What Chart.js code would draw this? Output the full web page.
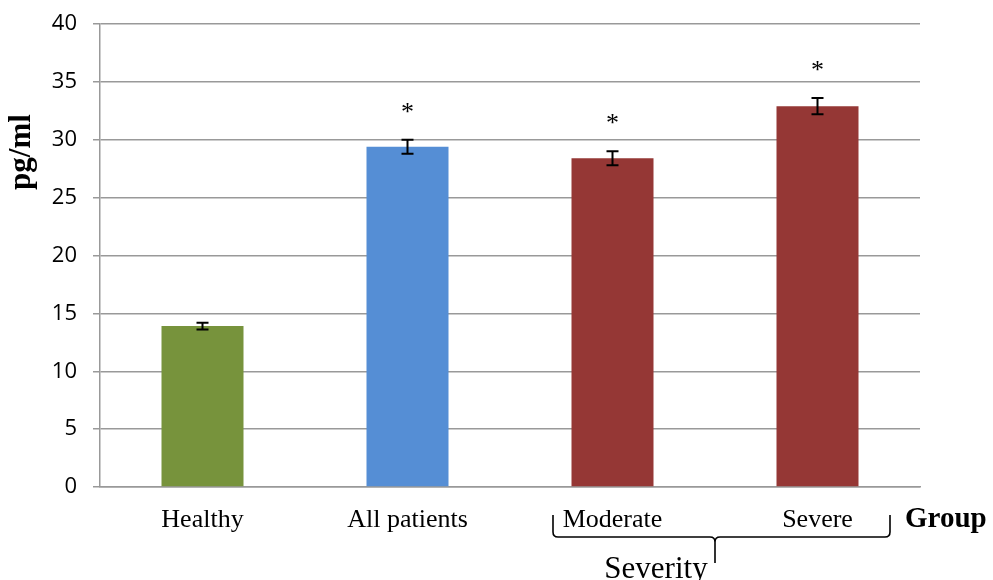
<!DOCTYPE html>
<html><head><meta charset="utf-8">
<script src="https://cdn.jsdelivr.net/npm/chart.js@4"></script>
<style>html,body{margin:0;padding:0;background:#fff}#wrap{width:993px;height:580px;position:relative}</style>
</head><body><div id="wrap"><canvas id="c" width="993" height="580"></canvas></div>
<script>
const categories = ["Healthy", "All patients", "Moderate", "Severe"];
const values = [13.9, 29.4, 28.4, 32.9];
const errors = [0.3, 0.6, 0.6, 0.7];
const significant = [false, true, true, true];
const barColors = ["#77933C", "#558ED5", "#953735", "#953735"];
const yTicks = [0, 5, 10, 15, 20, 25, 30, 35, 40];
const groupLabel = "Group";
const bracketLabel = "Severity";
const yTitle = "pg/ml";

const extras = {
  id: 'extras',
  afterDatasetsDraw(chart) {
    const ctx = chart.ctx;
    const x = chart.scales.x, y = chart.scales.y;
    ctx.save();
    ctx.strokeStyle = '#000'; ctx.lineWidth = 2;
    values.forEach((v, i) => {
      const cx = x.getPixelForValue(i);
      const t = y.getPixelForValue(v + errors[i]);
      const b = y.getPixelForValue(v - errors[i]);
      ctx.beginPath();
      ctx.moveTo(cx, t); ctx.lineTo(cx, b);
      ctx.moveTo(cx - 6, t); ctx.lineTo(cx + 6, t);
      ctx.moveTo(cx - 6, b); ctx.lineTo(cx + 6, b);
      ctx.stroke();
      if (significant[i]) {
        ctx.fillStyle = '#000';
        ctx.font = '26px "Liberation Serif"';
        ctx.textAlign = 'center'; ctx.textBaseline = 'alphabetic';
        ctx.fillText('*', cx, t - 20);
      }
    });
    ctx.restore();
  },
  afterDraw(chart) {
    const ctx = chart.ctx;
    ctx.save();
    ctx.fillStyle = '#000';
    ctx.font = 'bold 29px "Liberation Serif"';
    ctx.textAlign = 'left'; ctx.textBaseline = 'alphabetic';
    ctx.fillText(groupLabel, 905, 527);
    ctx.save();
    ctx.translate(22, 152);
    ctx.rotate(-Math.PI / 2);
    ctx.textAlign = 'center'; ctx.textBaseline = 'middle';
    ctx.font = 'bold 31px "Liberation Serif"';
    ctx.fillText(yTitle, 0, 0);
    ctx.restore();
    const l = 553, r = 890, mid = 715, top = 515, base = 537, tip = 563;
    ctx.strokeStyle = '#000'; ctx.lineWidth = 1.6;
    ctx.beginPath();
    ctx.moveTo(l, top);
    ctx.lineTo(l, base - 5);
    ctx.quadraticCurveTo(l, base, l + 5, base);
    ctx.lineTo(mid - 5, base);
    ctx.quadraticCurveTo(mid, base, mid, base + 5);
    ctx.lineTo(mid, tip);
    ctx.moveTo(mid, base + 5);
    ctx.quadraticCurveTo(mid, base, mid + 5, base);
    ctx.lineTo(r - 5, base);
    ctx.quadraticCurveTo(r, base, r, base - 5);
    ctx.lineTo(r, top);
    ctx.stroke();
    ctx.font = '31px "Liberation Serif"';
    ctx.textAlign = 'center'; ctx.textBaseline = 'alphabetic';
    ctx.fillText(bracketLabel, 656, 578);
    ctx.restore();
  }
};

new Chart(document.getElementById('c'), {
  type: 'bar',
  data: {
    labels: categories,
    datasets: [{ data: values, backgroundColor: barColors, borderWidth: 0,
      barPercentage: 0.8, categoryPercentage: 0.5 }]
  },
  options: {
    responsive: false, animation: false,
    devicePixelRatio: 1,
    layout: { padding: { top: 24, right: 73, left: 0, bottom: 0 } },
    plugins: { legend: { display: false }, tooltip: { enabled: false } },
    scales: {
      x: {
        grid: { display: false, drawTicks: false },
        border: { display: true, color: '#999', width: 1.5 },
        ticks: { color: '#000', font: { family: '"Liberation Serif"', size: 26 }, padding: 18, maxRotation: 0 },
        afterFit(s) { s.height = 93; s.paddingLeft = 0; s.paddingRight = 0; }
      },
      y: {
        min: 0, max: 40,
        afterBuildTicks(s) { s.ticks = yTicks.map(v => ({ value: v })); },
        grid: { color: '#999', lineWidth: 1.5, tickLength: 7, tickColor: '#999' },
        border: { display: true, color: '#999', width: 1.5 },
        ticks: { color: '#000', font: { family: '"Open Sans"', size: 22 }, padding: 16 },
        afterFit(s) { s.width = 100; s.paddingTop = 0; s.paddingBottom = 0; }
      }
    }
  },
  plugins: [extras]
});
</script></body></html>
